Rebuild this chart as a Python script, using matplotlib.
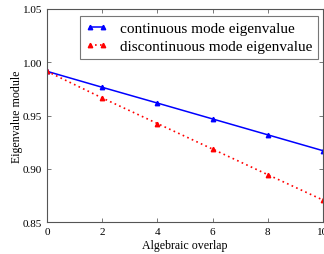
import matplotlib
matplotlib.use("Agg")
import matplotlib.pyplot as plt

overlap = [0, 2, 4, 6, 8, 10]
continuous = [0.9915, 0.9765, 0.9617, 0.9468, 0.9319, 0.917]
discontinuous = [0.9915, 0.9665, 0.9425, 0.9185, 0.8945, 0.8707]

plt.rcParams["font.family"] = ["Liberation Serif", "DejaVu Serif"]
plt.rcParams["font.size"] = 8

fig = plt.figure(figsize=(3.24, 2.55), dpi=100)
ax = fig.add_axes([0.145, 0.125, 0.852, 0.836])

ax.plot(overlap, continuous, color="blue", lw=1.1, marker="^", markersize=3.2,
        label="continuous mode eigenvalue")
ax.plot(overlap, discontinuous, color="red", lw=1.2, ls=(0, (1, 2)),
        marker="^", markersize=3.2, label="discontinuous mode eigenvalue")

ax.set_xlim(0, 10)
ax.set_ylim(0.85, 1.05)
ax.set_xticks([0, 2, 4, 6, 8, 10])
ax.set_yticks([0.85, 0.90, 0.95, 1.00, 1.05])
ax.set_xlabel("Algebraic overlap", fontsize=8.6, labelpad=2.5)
ax.set_ylabel("Eigenvalue module", fontsize=8.6, labelpad=0)
ax.tick_params(direction="in", top=True, right=True, length=3, width=0.5,
               colors="#444444", labelcolor="black", pad=3.5)
for s in ax.spines.values():
    s.set_color("#555555")
    s.set_linewidth(0.8)

leg = ax.legend(loc="upper right", bbox_to_anchor=(0.982, 0.967), borderaxespad=0,
                fontsize=11, fancybox=False, framealpha=1, edgecolor="#777777",
                numpoints=2, handlelength=1.45, handletextpad=0.85,
                labelspacing=0.3, borderpad=0.35)
leg.get_frame().set_linewidth(0.8)

fig.savefig("out.png", dpi=100)
